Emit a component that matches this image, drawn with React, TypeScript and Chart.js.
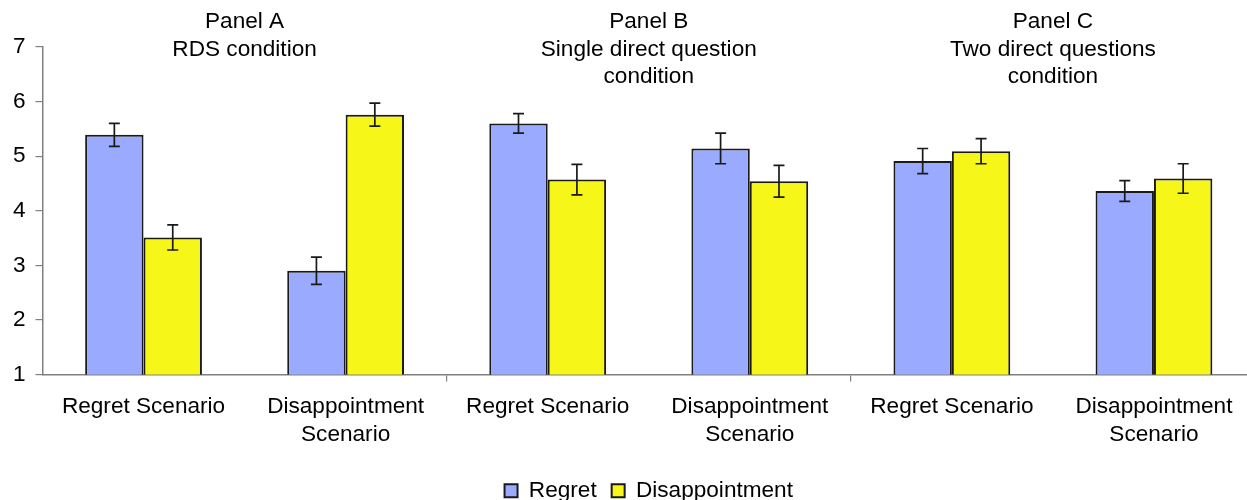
import React, { useEffect, useRef } from "react";
import { Chart, registerables } from "chart.js";

Chart.register(...registerables);

const categories: (string | string[])[] = [
  "Regret Scenario",
  ["Disappointment", "Scenario"],
  "Regret Scenario",
  ["Disappointment", "Scenario"],
  "Regret Scenario",
  ["Disappointment", "Scenario"],
];

const regretMeans = [5.39, 2.9, 5.6, 5.14, 4.91, 4.36];
const regretErrors = [0.21, 0.25, 0.18, 0.28, 0.23, 0.19];
const disappointmentMeans = [3.51, 5.76, 4.57, 4.54, 5.09, 4.59];
const disappointmentErrors = [0.23, 0.21, 0.28, 0.29, 0.23, 0.27];

const panelTitles: string[][] = [
  ["Panel A", "RDS condition"],
  ["Panel B", "Single direct question", "condition"],
  ["Panel C", "Two direct questions", "condition"],
];

const yTicks = [1, 2, 3, 4, 5, 6, 7];

const FONT = "'Liberation Sans', Arial, Helvetica, sans-serif";
const FONT_SIZE = 22.6;
const AXIS_GRAY = "#808080";

const errorBarPlugin = {
  id: "errorBars",
  afterDatasetsDraw(chart: any) {
    const ctx = chart.ctx;
    const yScale = chart.scales.y;
    chart.data.datasets.forEach((ds: any, di: number) => {
      const meta = chart.getDatasetMeta(di);
      const errs: number[] = ds.errors || [];
      meta.data.forEach((bar: any, i: number) => {
        const v = ds.data[i];
        const e = errs[i];
        if (v == null || e == null) return;
        const x = bar.x;
        const yTop = yScale.getPixelForValue(v + e);
        const yBot = yScale.getPixelForValue(v - e);
        const cap = 5.5;
        ctx.save();
        ctx.strokeStyle = "#1a1a1a";
        ctx.lineWidth = 1.7;
        ctx.beginPath();
        ctx.moveTo(x, yTop);
        ctx.lineTo(x, yBot);
        ctx.moveTo(x - cap, yTop);
        ctx.lineTo(x + cap, yTop);
        ctx.moveTo(x - cap, yBot);
        ctx.lineTo(x + cap, yBot);
        ctx.stroke();
        ctx.restore();
      });
    });
  },
};

const panelTitlePlugin = {
  id: "panelTitles",
  afterDraw(chart: any) {
    const ctx = chart.ctx;
    const xScale = chart.scales.x;
    ctx.save();
    ctx.fillStyle = "#000";
    ctx.font = `${FONT_SIZE}px ${FONT}`;
    ctx.textAlign = "center";
    ctx.textBaseline = "middle";
    panelTitles.forEach((lines, p) => {
      const cx =
        (xScale.getPixelForValue(p * 2) + xScale.getPixelForValue(p * 2 + 1)) / 2;
      lines.forEach((line, li) => {
        ctx.fillText(line, cx, 22 + li * 27.5);
      });
    });
    ctx.restore();
  },
};

// center the legend over the plot area rather than the whole canvas
const legendAlignPlugin = {
  id: "legendAlign",
  afterLayout(chart: any) {
    const lg = chart.legend;
    const ca = chart.chartArea;
    if (!lg || !ca) return;
    lg.left = ca.left;
    lg.right = ca.right;
    lg.width = ca.right - ca.left;
  },
};

export default function App() {
  const canvasRef = useRef<HTMLCanvasElement | null>(null);

  useEffect(() => {
    if (!canvasRef.current) return;
    Chart.defaults.font.family = FONT;
    Chart.defaults.font.size = FONT_SIZE;
    Chart.defaults.color = "#000";

    const chart = new Chart(canvasRef.current, {
      type: "bar",
      data: {
        labels: categories as any,
        datasets: [
          {
            label: "Regret",
            data: regretMeans,
            errors: regretErrors,
            backgroundColor: "#99aaff",
            borderColor: "#1a1a1a",
            borderWidth: 2,
            borderSkipped: false,
            categoryPercentage: 0.578,
            barPercentage: 1,
          } as any,
          {
            label: "Disappointment",
            data: disappointmentMeans,
            errors: disappointmentErrors,
            backgroundColor: "#f6f618",
            borderColor: "#1a1a1a",
            borderWidth: 2,
            borderSkipped: false,
            categoryPercentage: 0.578,
            barPercentage: 1,
          } as any,
        ],
      },
      options: {
        animation: false,
        responsive: false,
        layout: { padding: { top: 47, left: 0, right: 0, bottom: 0 } },
        plugins: {
          title: { display: false },
          tooltip: { enabled: false },
          legend: {
            display: true,
            position: "bottom",
            labels: {
              boxWidth: 13,
              boxHeight: 13,
              padding: 15,
              font: { size: FONT_SIZE, family: FONT },
              color: "#000",
            },
          },
        },
        scales: {
          x: {
            type: "category",
            offset: true,
            grid: {
              display: true,
              offset: true,
              drawOnChartArea: false,
              drawTicks: true,
              tickLength: 7,
              lineWidth: 1.2,
              color: (c: any) => (c.index === 2 || c.index === 4 ? AXIS_GRAY : "rgba(0,0,0,0)"),
            },
            border: { display: true, color: AXIS_GRAY, width: 1.5 },
            ticks: {
              autoSkip: false,
              maxRotation: 0,
              minRotation: 0,
              padding: 12,
              color: "#000",
              font: { size: FONT_SIZE, family: FONT, lineHeight: 1.22 },
            },
            afterFit: (scale: any) => {
              scale.height = 90;
            },
          },
          y: {
            type: "linear",
            min: 1,
            max: 7,
            afterBuildTicks: (scale: any) => {
              scale.ticks = yTicks.map((v) => ({ value: v }));
            },
            grid: {
              display: true,
              drawOnChartArea: false,
              drawTicks: true,
              tickLength: 7,
              color: AXIS_GRAY,
              lineWidth: 1.2,
            },
            border: { display: true, color: AXIS_GRAY, width: 1.5 },
            ticks: {
              padding: 10,
              color: "#000",
              font: { size: FONT_SIZE, family: FONT },
            },
            afterFit: (scale: any) => {
              scale.width = 42.5;
            },
          },
        },
      },
      plugins: [errorBarPlugin, panelTitlePlugin, legendAlignPlugin],
    });

    return () => {
      chart.destroy();
    };
  }, []);

  return (
    <div
      style={{
        position: "absolute",
        left: 0,
        top: 0,
        width: 1247,
        height: 500,
        overflow: "hidden",
        background: "#fff",
      }}
    >
      <canvas
        ref={canvasRef}
        width={1255}
        height={512}
        style={{ width: 1255, height: 512, display: "block" }}
      />
    </div>
  );
}
